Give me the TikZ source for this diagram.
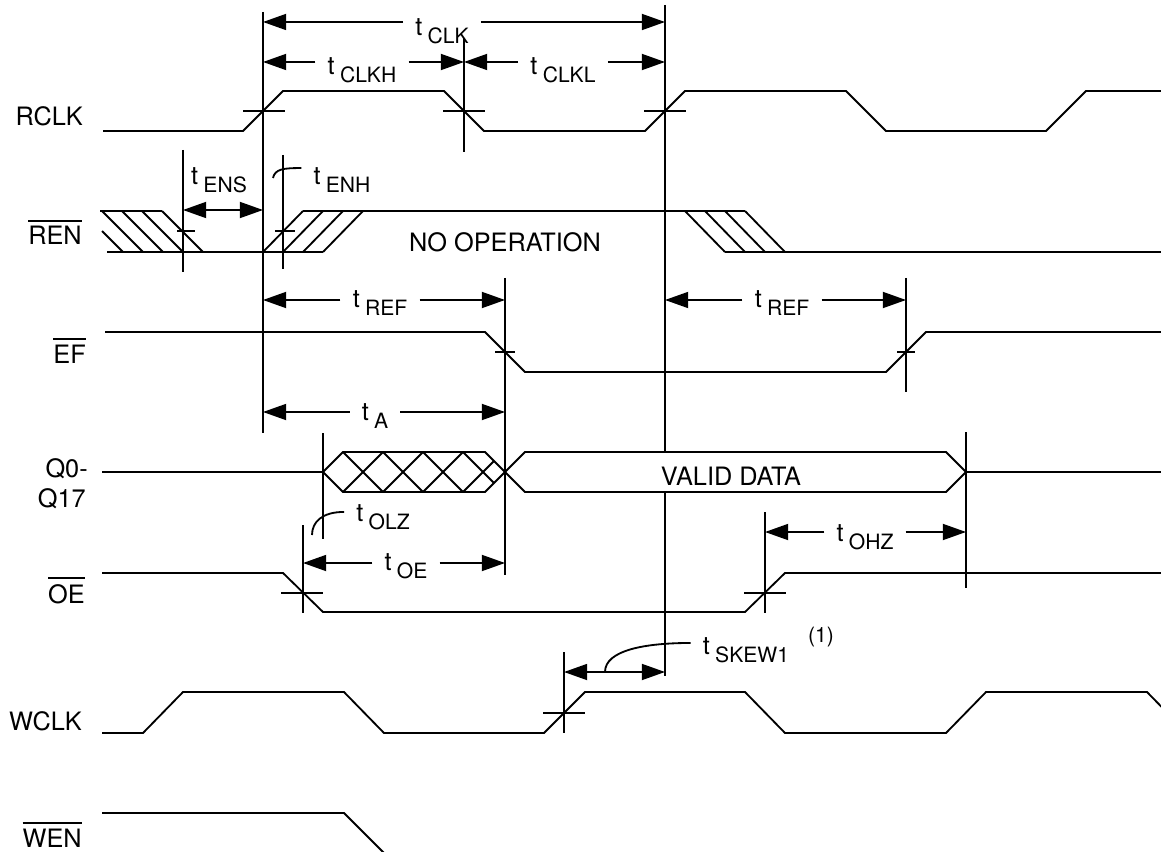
\documentclass[tikz,border=0pt]{standalone}
\usepackage{fontspec}
\setmainfont{TeX Gyre Heros}
\usetikzlibrary{arrows.meta,calc}

\newcommand\lfont{\fontsize{18}{20}\selectfont}
\newcommand\tfont{\fontsize{15}{17}\selectfont}
\newcommand\tsub[1]{{\lfont t}\hspace{0.25em}\raisebox{-0.38em}{#1}}
\newcommand\ovl[1]{\vbox{\hrule height 1.4pt\kern 3.5pt\hbox{#1}}}

\tikzset{
  wave/.style={line width=1.3pt},
  guide/.style={line width=1.3pt},
  dimarr/.style={line width=1.3pt, -{Triangle[length=0.58cm,width=0.4cm]}},
  dimboth/.style={line width=1.3pt,
    {Triangle[length=0.58cm,width=0.4cm]}-{Triangle[length=0.58cm,width=0.4cm]}},
  tlab/.style={font=\tfont, inner xsep=0.3cm, inner ysep=0pt},
  siglab/.style={font=\lfont, anchor=base east, inner sep=0pt},
  note/.style={font=\lfont, inner sep=0pt},
}

\begin{document}
\begin{tikzpicture}[x=0.025cm, y=-0.025cm]
  \useasboundingbox (0,0) rectangle (1161,852);
  \clip (0,0) rectangle (1161,852);

  % signal names
  \node[siglab] (lrclk) at (83,126) {RCLK};
  \node[siglab] (lren) at (82,245) {\ovl{REN}};
  \node[siglab] (lef) at (86,363) {\ovl{EF}};
  \node[siglab] (lq0) at (88,477) {Q0-};
  \node[siglab] (lq17) at (86,507) {Q17};
  \node[siglab] (loe) at (85,603) {\ovl{OE}};
  \node[siglab] (lwclk) at (82,730) {WCLK};
  \node[siglab] (lwen) at (82,847) {\ovl{WEN}};

  % RCLK
  \draw[wave] (103,131) -- (243,131) -- (283,91) -- (444,91) -- (484,131) -- (645,131)
    -- (685,91) -- (846,91) -- (886,131) -- (1046,131) -- (1086,91) -- (1161,91);

  % REN
  \draw[wave] (100,211) -- (162,211);
  \draw[wave] (107,252) -- (323,252);
  \draw[wave] (303,211) -- (745,211);
  \draw[wave] (725,252) -- (1161,252);
  \draw[wave] (102,231) -- (123,252);
  \foreach \x in {102,122,142,162}
    \draw[wave] (\x,211) -- ++(41,41);
  \foreach \x in {263,283,303,323}
    \draw[wave] (\x,252) -- ++(40,-41);
  \foreach \x in {685,705,725,745}
    \draw[wave] (\x,211) -- ++(40,41);
  \node[note] (noop) at (505,242) {NO OPERATION};

  % EF
  \draw[wave] (105,332) -- (485,332) -- (525,372) -- (886,372) -- (926,332) -- (1161,332);

  % Q0-Q17
  \draw[wave] (102,472) -- (323,472);
  \begin{scope}
    \clip (323,472) -- (343,452) -- (485,452) -- (505,472) -- (485,492) -- (343,492) -- cycle;
    \foreach \k in {0,...,3} {
      \draw[wave] (343+40*\k,452) -- ++(40,40);
      \draw[wave] (343+40*\k,492) -- ++(40,-40);
    }
  \end{scope}
  \draw[wave] (323,472) -- (343,452) -- (485,452) -- (505,472) -- (485,492) -- (343,492) -- cycle;
  \draw[wave] (505,472) -- (525,452) -- (946,452) -- (966,472) -- (946,492) -- (525,492) -- cycle;
  \draw[wave] (966,472) -- (1161,472);
  \node[note] (valid) at (731,476) {VALID DATA};

  % OE
  \draw[wave] (102,573) -- (283,573) -- (323,612) -- (745,612) -- (785,573) -- (1161,573);

  % WCLK
  \draw[wave] (102,733) -- (143,733) -- (183,692) -- (344,692) -- (384,733) -- (544,733)
    -- (585,692) -- (745,692) -- (785,733) -- (946,733) -- (986,692) -- (1147,692) -- (1187,733);

  % WEN
  \draw[wave] (102,813) -- (344,813) -- (384,853);

  % reference lines
  \draw[guide] (263,12) -- (263,433);
  \draw[guide] (665,5) -- (665,452) (665,492) -- (665,676);
  \draw[guide] (464,38) -- (464,152);
  \draw[guide] (183,150) -- (183,272);
  \draw[guide] (283,155) -- (283,269);
  \draw[guide] (505,278) -- (505,575);
  \draw[guide] (906,278) -- (906,392);
  \draw[guide] (323,433) -- (323,539);
  \draw[guide] (966,432) -- (966,588);
  \draw[guide] (303,525) -- (303,613);
  \draw[guide] (765,512) -- (765,613);
  \draw[guide] (564,652) -- (564,733);

  % crossing ticks
  \foreach \x/\y/\w in {264/111/21, 464/111/21, 665/111/21, 186/231/9, 285/231/10,
                         505/352/10, 906/352/9, 302/593/21, 765/593/21, 564/713/21}
    \draw[guide] (\x-\w,\y) -- (\x+\w,\y);

  % timing labels
  \node[tlab] (tclk) at (442,31) {\tsub{CLK}};
  \node[tlab] (tclkh) at (362,70) {\tsub{CLKH}};
  \node[tlab] (tclkl) at (563,70) {\tsub{CLKL}};
  \node[tlab] (tens) at (219,180) {\tsub{ENS}};
  \node[tlab] (tenh) at (342,180) {\tsub{ENH}};
  \node[tlab] (trefa) at (380,303) {\tsub{REF}};
  \node[tlab] (trefb) at (782,303) {\tsub{REF}};
  \node[tlab] (ta) at (375,416) {\tsub{A}};
  \node[tlab] (tolz) at (383,517) {\tsub{OLZ}};
  \node[tlab] (toe) at (406,566) {\tsub{OE}};
  \node[tlab] (tohz) at (865,537) {\tsub{OHZ}};
  \node[tlab] (tskew) at (746,650) {\tsub{SKEW1}};
  \node[tlab, inner sep=0pt] (fnote) at (821,637) {(1)};

  % dimension arrows
  \coordinate (clka) at (263,22);  \coordinate (clkb) at (665,22);
  \draw[dimarr] (clka -| tclk.west) -- (clka);
  \draw[dimarr] (clkb -| tclk.east) -- (clkb);
  \coordinate (clkha) at (263,62); \coordinate (clkhb) at (464,62);
  \draw[dimarr] (clkha -| tclkh.west) -- (clkha);
  \draw[dimarr] (clkhb -| tclkh.east) -- (clkhb);
  \coordinate (clkla) at (464,62); \coordinate (clklb) at (665,62);
  \draw[dimarr] (clkla -| tclkl.west) -- (clkla);
  \draw[dimarr] (clklb -| tclkl.east) -- (clklb);
  \coordinate (ensa) at (183,210); \coordinate (ensb) at (263,210);
  \draw[dimboth] (ensa) -- (ensb);
  \coordinate (refaa) at (263,300); \coordinate (refab) at (505,300);
  \draw[dimarr] (refaa -| trefa.west) -- (refaa);
  \draw[dimarr] (refab -| trefa.east) -- (refab);
  \coordinate (refba) at (665,300); \coordinate (refbb) at (906,300);
  \draw[dimarr] (refba -| trefb.west) -- (refba);
  \draw[dimarr] (refbb -| trefb.east) -- (refbb);
  \coordinate (aa) at (263,412); \coordinate (ab) at (505,412);
  \draw[dimarr] (aa -| ta.west) -- (aa);
  \draw[dimarr] (ab -| ta.east) -- (ab);
  \coordinate (oea) at (303,563); \coordinate (oeb) at (505,563);
  \draw[dimarr] (oea -| toe.west) -- (oea);
  \draw[dimarr] (oeb -| toe.east) -- (oeb);
  \coordinate (ohza) at (765,532); \coordinate (ohzb) at (966,532);
  \draw[dimarr] (ohza -| tohz.west) -- (ohza);
  \draw[dimarr] (ohzb -| tohz.east) -- (ohzb);
  \coordinate (skewa) at (564,672); \coordinate (skewb) at (665,672);
  \draw[dimboth] (skewa) -- (skewb);

  % leaders
  \draw[guide] ([yshift=8.5pt]tenh.west) .. controls +(-18,0) and +(2,-9) .. (273,178);
  \draw[guide] ([yshift=3.6pt]tolz.west) .. controls +(-22,0) and +(0,-13) .. (312,535);
  \draw[guide] ([yshift=5pt]tskew.west) .. controls +(-45,0) and +(0,-22) .. (605,672);
\end{tikzpicture}
\end{document}
